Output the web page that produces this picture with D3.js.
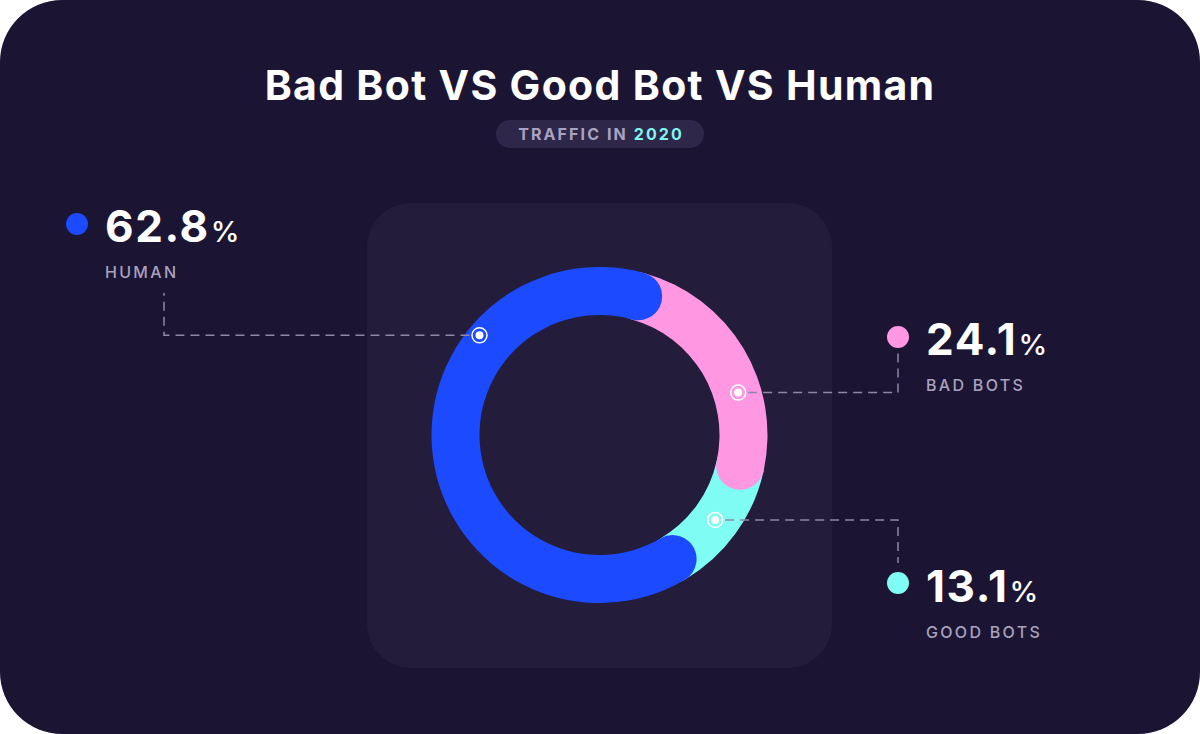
<!DOCTYPE html>
<html><head><meta charset="utf-8">
<script src="https://cdn.jsdelivr.net/npm/d3@7"></script>
<style>html,body{margin:0;padding:0;background:#fff;} svg{display:block;} text{white-space:pre;}</style>
</head><body><svg id="chart" width="1200" height="734"></svg>
<script>
// ---- data ----
const categories = ["Human", "Bad Bots", "Good Bots"];
const values = [62.8, 24.1, 13.1];
const labelTexts = ["HUMAN", "BAD BOTS", "GOOD BOTS"];
const titleText = "Bad Bot VS Good Bot VS Human";
const subtitlePrefix = "TRAFFIC IN ";
const subtitleYear = "2020";

// ---- styles / layout ----
const W = 1200, H = 734;
const palette = ["#1c4bff", "#ff97e3", "#7ffcf3"];
const FONT = "Inter, 'Open Sans', sans-serif";
const cx = 599.5, cy = 435, R = 168, r0 = 120;
const deg = Math.PI / 180;
const layout = [
  {tx: 105, ty: 242, dotX: 77, dotY: 224, mAng: -50.3, mR: 156, side: "left", elbowX: 164, endY: 293},
  {tx: 926, ty: 355, dotX: 898, dotY: 337, mAng: 73, mR: 145, side: "right", elbowX: 898, endY: 349},
  {tx: 926, ty: 602, dotX: 898, dotY: 583, mAng: 126.3, mR: 143.5, side: "right", elbowX: 898, endY: 563}
];

const svg = d3.select("#chart");
svg.append("rect").attr("width", W).attr("height", H).attr("rx", 62).attr("fill", "#1c1433");

svg.append("text").attr("x", 600).attr("y", 100).attr("text-anchor", "middle")
  .attr("font-family", FONT).attr("font-weight", 700).attr("font-size", 41)
  .attr("letter-spacing", 1.3).attr("fill", "#ffffff").text(titleText);

svg.append("rect").attr("x", 496).attr("y", 120).attr("width", 208).attr("height", 28)
  .attr("rx", 14).attr("fill", "#2e2749");
const sub = svg.append("text").attr("x", 601).attr("y", 140).attr("text-anchor", "middle")
  .attr("font-family", FONT).attr("font-weight", 700).attr("font-size", 16).attr("letter-spacing", 2.1);
sub.append("tspan").attr("fill", "#aaa2c2").text(subtitlePrefix);
sub.append("tspan").attr("fill", "#7ff5f0").text(subtitleYear);

// panel
svg.append("rect").attr("x", 367).attr("y", 203).attr("width", 465).attr("height", 465)
  .attr("rx", 44).attr("fill", "#241c3b");

// donut
const start = 149.5 * deg;
const pie = d3.pie().sort(null).value(d => d.v).startAngle(start).endAngle(start + 2 * Math.PI);
const arcsData = pie(categories.map((c, i) => ({c, v: values[i], i})));
const half = (R - r0) / 2;
const cap = Math.asin(half / (r0 + half));
const arc = d3.arc().innerRadius(r0).outerRadius(R).cornerRadius(half);
const g = svg.append("g").attr("transform", `translate(${cx},${cy})`);
g.selectAll("path").data(arcsData.slice().reverse()).join("path")
  .attr("fill", d => palette[d.data.i])
  .attr("d", d => arc({startAngle: d.startAngle - cap, endAngle: d.endAngle + cap}));

// annotations
const dashColor = "#8e87a6";
layout.forEach((L, i) => {
  const a = L.mAng * deg;
  const mx = cx + L.mR * Math.sin(a), my = cy - L.mR * Math.cos(a);
  const sx = L.side === "left" ? mx - 10 : mx + 10;
  svg.append("path")
    .attr("d", `M${sx},${my}H${L.elbowX}V${L.endY}`)
    .attr("fill", "none").attr("stroke", dashColor).attr("stroke-width", 1.5)
    .attr("stroke-dasharray", "9,6");
  svg.append("circle").attr("cx", mx).attr("cy", my).attr("r", 7.5)
    .attr("fill", "none").attr("stroke", "#ffffff").attr("stroke-width", 1.5);
  svg.append("circle").attr("cx", mx).attr("cy", my).attr("r", 4).attr("fill", "#ffffff");

  svg.append("circle").attr("cx", L.dotX).attr("cy", L.dotY).attr("r", 11).attr("fill", palette[i]);
  const t = svg.append("text").attr("x", L.tx).attr("y", L.ty).attr("font-family", FONT).attr("fill", "#ffffff");
  t.append("tspan").attr("font-size", 44).attr("font-weight", 700).attr("letter-spacing", 1.6).text(values[i].toFixed(1));
  t.append("tspan").attr("font-size", 29).attr("font-weight", 500).attr("dx", 1).text("%");
  svg.append("text").attr("x", L.tx).attr("y", L.ty + 36).attr("font-family", FONT)
    .attr("font-size", 16).attr("font-weight", 500).attr("letter-spacing", 2.3)
    .attr("fill", "#a9a2bd").text(labelTexts[i]);
});
</script></body></html>
